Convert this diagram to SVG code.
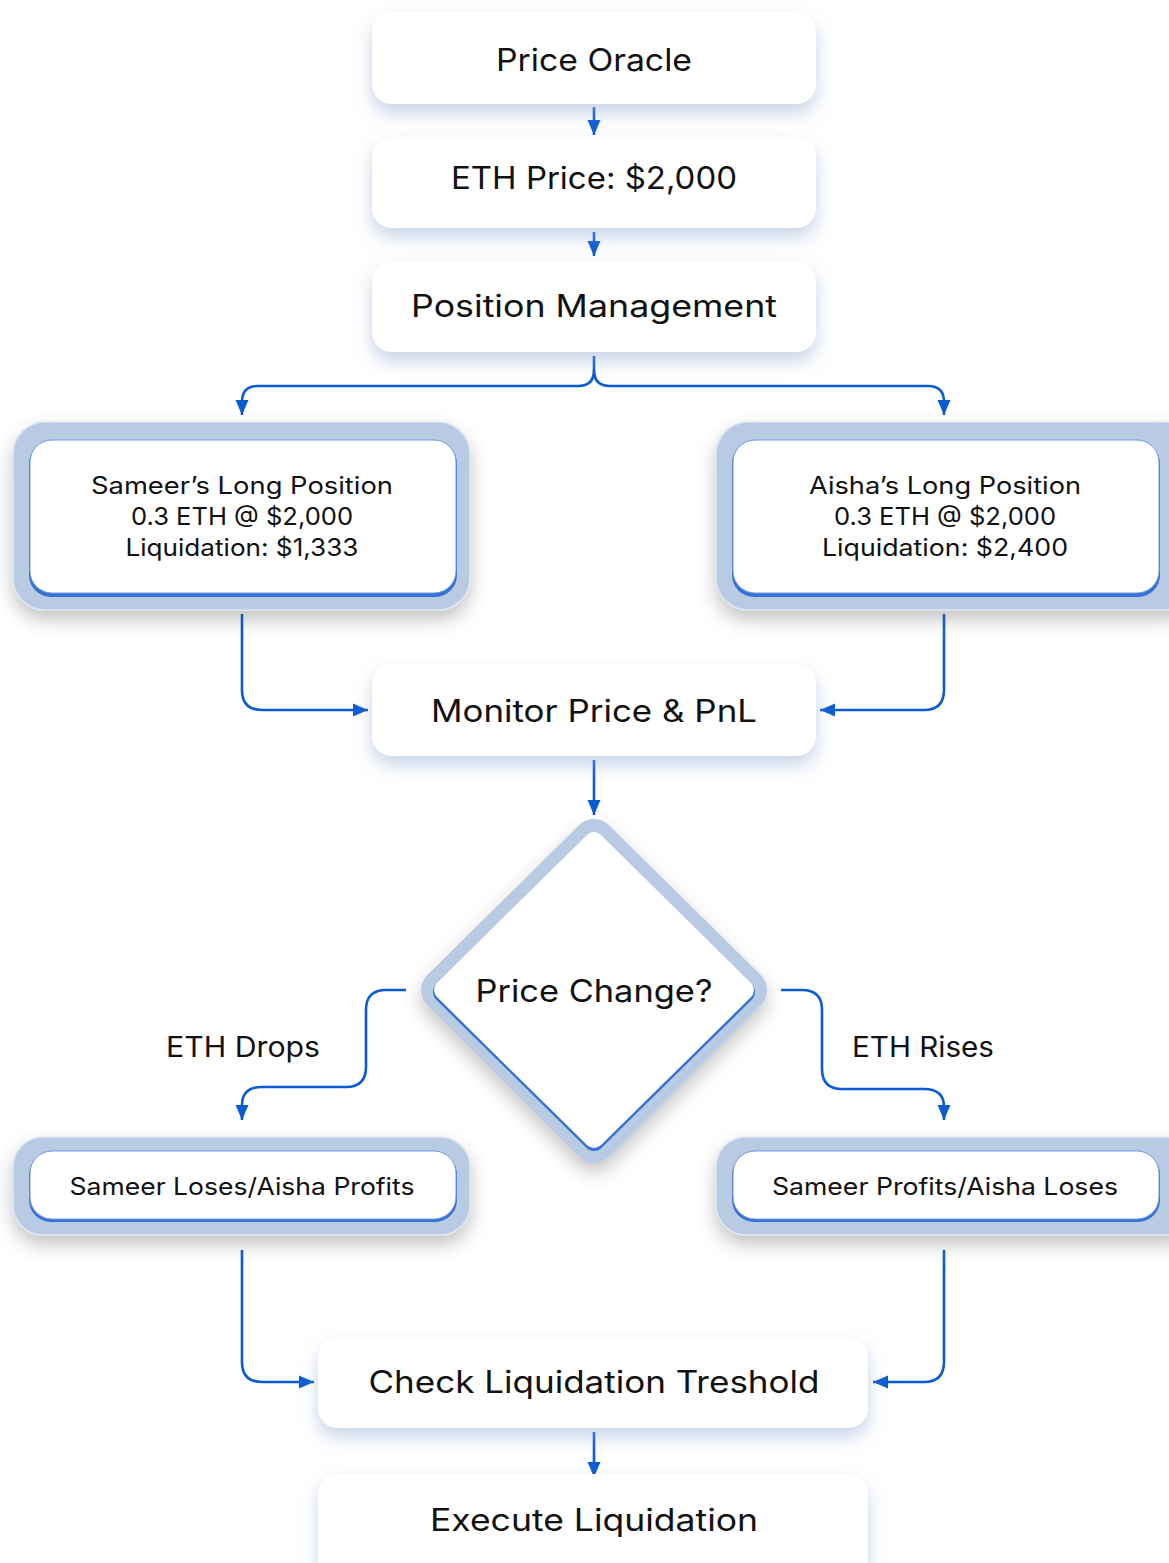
<svg xmlns="http://www.w3.org/2000/svg" width="1169" height="1563" viewBox="0 0 1169 1563">
<defs>
<filter id="softBlue" x="-20%" y="-30%" width="140%" height="180%">
<feDropShadow dx="0" dy="9" stdDeviation="9" flood-color="#8fa7d0" flood-opacity="0.5"/>
</filter>
<filter id="grayShadow" x="-20%" y="-20%" width="140%" height="160%">
<feDropShadow dx="0" dy="9" stdDeviation="9" flood-color="#555" flood-opacity="0.35"/>
</filter>
<marker id="arr" markerUnits="userSpaceOnUse" markerWidth="16" markerHeight="16" viewBox="0 0 16 16" refX="15" refY="8" orient="auto">
<path d="M0,1.5 L15,8 L0,14.5 Z" fill="#0b5bd3"/>
</marker>
</defs>
<style>
.box{fill:#ffffff;filter:url(#softBlue);}
.halo{fill:#b9cae3;stroke:#dfe6f1;stroke-width:1.5;filter:url(#grayShadow);}
.edge{fill:#3572d4;}
.inner{fill:#ffffff;stroke:#6f9be0;stroke-width:1;}
.t{font-family:Inter,"Liberation Sans",sans-serif;fill:#111111;text-anchor:middle;}
.big{font-size:31px;}
.mid{font-size:24px;}
.lbl{font-size:28px;}
.c{fill:none;stroke:#0b5bd3;stroke-width:2.6;marker-end:url(#arr);}
</style>
<rect width="1169" height="1563" fill="#ffffff"/>

<g id="connectors">
<path class="c" d="M594,107 V135"/>
<path class="c" d="M594,232 V256"/>
<path class="c" d="M594,356 V370 Q594,386 578,386 H258 Q242,386 242,402 V415"/>
<path class="c" d="M594,370 Q594,386 610,386 H928 Q944,386 944,402 V415"/>
<path class="c" d="M242,614 V690 Q242,710 262,710 H368"/>
<path class="c" d="M944,614 V690 Q944,710 924,710 H820"/>
<path class="c" d="M594,760 V815"/>
<path class="c" d="M406,990 H386 Q366,990 366,1010 V1067 Q366,1087 346,1087 H262 Q242,1087 242,1105 V1120"/>
<path class="c" d="M781,990 H802 Q822,990 822,1010 V1069 Q822,1089 842,1089 H924 Q944,1089 944,1107 V1120"/>
<path class="c" d="M242,1250 V1362 Q242,1382 262,1382 H314"/>
<path class="c" d="M944,1250 V1362 Q944,1382 924,1382 H873"/>
<path class="c" d="M594,1432 V1477"/>
</g>

<g id="price-oracle">
<rect class="box" x="372" y="12" width="444" height="92" rx="20"/>
<text class="t big" x="594" y="71" textLength="196" lengthAdjust="spacingAndGlyphs">Price Oracle</text>
</g>

<g id="eth-price">
<rect class="box" x="372" y="137" width="444" height="91" rx="20"/>
<text class="t big" x="594" y="189" textLength="286" lengthAdjust="spacingAndGlyphs">ETH Price: $2,000</text>
</g>

<g id="position-management">
<rect class="box" x="372" y="261" width="444" height="91" rx="20"/>
<text class="t big" x="594" y="317" textLength="366" lengthAdjust="spacingAndGlyphs">Position Management</text>
</g>

<g id="sameer-position">
<rect class="halo" x="13" y="422" width="457" height="188" rx="32"/>
<rect class="edge" x="29" y="442" width="428" height="155" rx="22"/>
<rect class="inner" x="30" y="440" width="426" height="153" rx="22"/>
<text class="t mid" x="242" y="494" textLength="302" lengthAdjust="spacingAndGlyphs">Sameer’s Long Position</text>
<text class="t mid" x="242" y="525" textLength="222" lengthAdjust="spacingAndGlyphs">0.3 ETH @ $2,000</text>
<text class="t mid" x="242" y="556" textLength="233" lengthAdjust="spacingAndGlyphs">Liquidation: $1,333</text>
</g>

<g id="aisha-position">
<rect class="halo" x="716" y="422" width="480" height="188" rx="32"/>
<rect class="edge" x="732" y="442" width="428" height="155" rx="22"/>
<rect class="inner" x="733" y="440" width="426" height="153" rx="22"/>
<text class="t mid" x="945" y="494" textLength="272" lengthAdjust="spacingAndGlyphs">Aisha’s Long Position</text>
<text class="t mid" x="945" y="525" textLength="222" lengthAdjust="spacingAndGlyphs">0.3 ETH @ $2,000</text>
<text class="t mid" x="945" y="556" textLength="246" lengthAdjust="spacingAndGlyphs">Liquidation: $2,400</text>
</g>

<g id="monitor">
<rect class="box" x="372" y="664" width="444" height="92" rx="20"/>
<text class="t big" x="594" y="722" textLength="326" lengthAdjust="spacingAndGlyphs">Monitor Price &amp; PnL</text>
</g>

<g id="price-change">
<polygon points="594,840 746,990 594,1142 442,990" fill="#b9cae3" stroke="#b9cae3" stroke-width="42" stroke-linejoin="round" filter="url(#grayShadow)"/>
<polygon points="594,842 744,990 594,1138 444,990" fill="#3572d4" stroke="#3572d4" stroke-width="22" stroke-linejoin="round" transform="translate(0,2)"/>
<polygon points="594,842 744,990 594,1138 444,990" fill="#ffffff" stroke="#ffffff" stroke-width="20" stroke-linejoin="round"/>
<text class="t big" x="594" y="1002" textLength="237" lengthAdjust="spacingAndGlyphs">Price Change?</text>
</g>

<g id="labels">
<text class="t lbl" x="243" y="1057" textLength="154" lengthAdjust="spacingAndGlyphs">ETH Drops</text>
<text class="t lbl" x="923" y="1057" textLength="142" lengthAdjust="spacingAndGlyphs">ETH Rises</text>
</g>

<g id="sameer-loses">
<rect class="halo" x="13" y="1137" width="457" height="98" rx="30"/>
<rect class="edge" x="29" y="1153" width="428" height="69" rx="22"/>
<rect class="inner" x="30" y="1151" width="426" height="68" rx="22"/>
<text class="t mid" x="242" y="1195" textLength="345" lengthAdjust="spacingAndGlyphs">Sameer Loses/Aisha Profits</text>
</g>

<g id="sameer-profits">
<rect class="halo" x="716" y="1137" width="480" height="98" rx="30"/>
<rect class="edge" x="732" y="1153" width="428" height="69" rx="22"/>
<rect class="inner" x="733" y="1151" width="426" height="68" rx="22"/>
<text class="t mid" x="945" y="1195" textLength="346" lengthAdjust="spacingAndGlyphs">Sameer Profits/Aisha Loses</text>
</g>

<g id="check-liquidation">
<rect class="box" x="318" y="1337" width="550" height="91" rx="20"/>
<text class="t big" x="594" y="1393" textLength="451" lengthAdjust="spacingAndGlyphs">Check Liquidation Treshold</text>
</g>

<g id="execute-liquidation">
<rect class="box" x="318" y="1474" width="550" height="110" rx="20"/>
<text class="t big" x="594" y="1531" textLength="328" lengthAdjust="spacingAndGlyphs">Execute Liquidation</text>
</g>
</svg>
